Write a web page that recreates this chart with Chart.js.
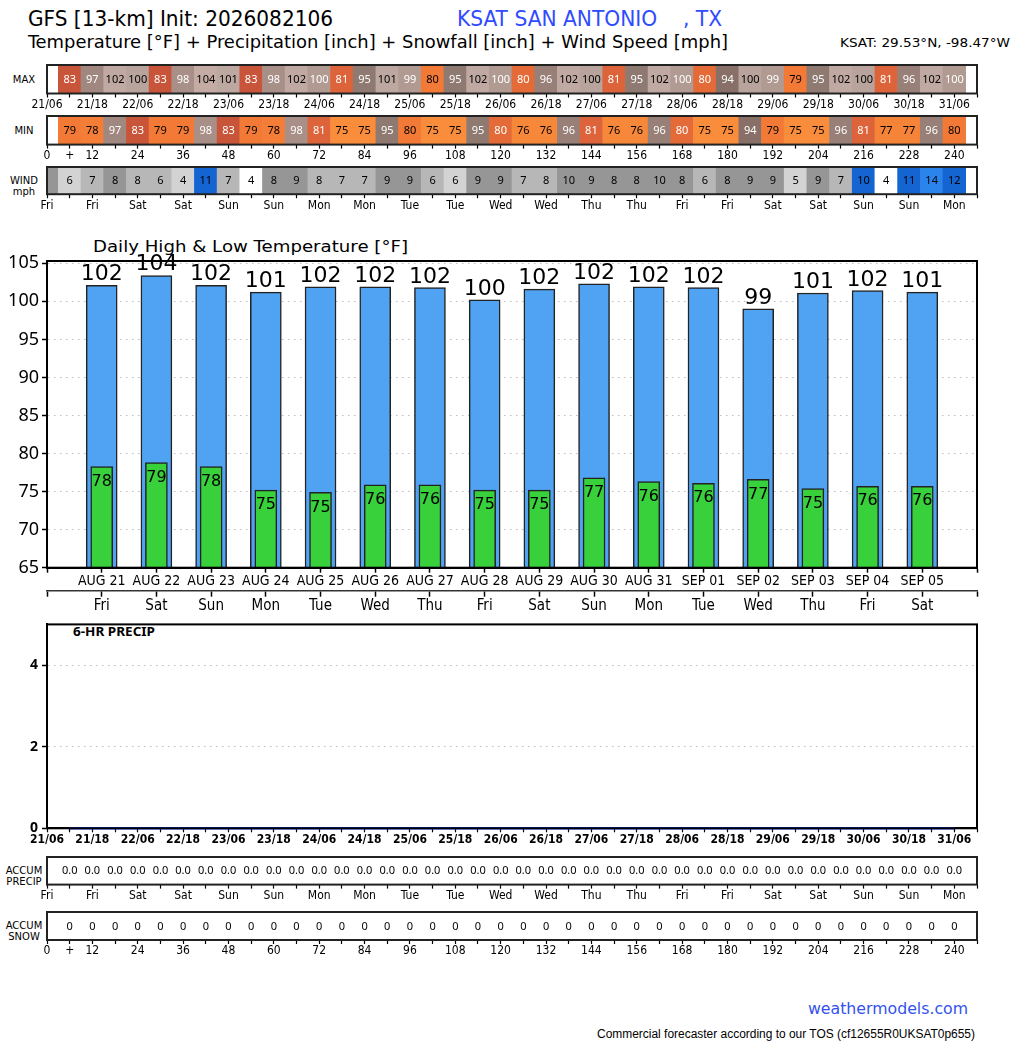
<!DOCTYPE html>
<html><head><meta charset="utf-8"><title>GFS KSAT San Antonio</title>
<script src="https://cdn.jsdelivr.net/npm/chart.js@4.4.1/dist/chart.umd.min.js"></script>
<style>
html,body{margin:0;padding:0;background:#fff}
body{position:relative;width:1024px;height:1044px;overflow:hidden}
.t{position:absolute;white-space:pre;line-height:1;color:#000;transform-origin:left top}
.sl{position:absolute;left:0;width:48px;text-align:center;font:10px "DejaVu Sans",sans-serif;line-height:11px;color:#000}
canvas{position:absolute;left:0}
</style></head><body>
<div id="h1" class="t" style="left:28px;top:9px;font-size:21px;font-family:'Liberation Sans Narrow','DejaVu Sans Condensed','Noto Sans',sans-serif">GFS [13-km] Init: 2026082106</div>
<div id="h2" class="t" style="left:457px;top:9px;font-size:21px;font-family:'Liberation Sans Narrow','DejaVu Sans Condensed','Noto Sans',sans-serif;color:#2f4bff">KSAT SAN ANTONIO    , TX</div>
<div id="h3" class="t" style="left:28px;top:33px;font-size:18px;font-family:'Liberation Sans Narrow','DejaVu Sans Condensed','Noto Sans',sans-serif">Temperature [°F] + Precipitation [inch] + Snowfall [inch] + Wind Speed [mph]</div>
<div id="h4" class="t" style="left:840px;top:37px;font-size:12px;font-family:'Liberation Sans Narrow','DejaVu Sans Condensed','Noto Sans',sans-serif">KSAT: 29.53°N, -98.47°W</div>

<div class="sl" style="top:74px">MAX</div>
<div class="sl" style="top:125px">MIN</div>
<div class="sl" style="top:175px">WIND<br>mph</div>
<div class="sl" style="top:865px">ACCUM<br>PRECIP</div>
<div class="sl" style="top:920px">ACCUM<br>SNOW</div>

<div id="tt" class="t" style="left:93px;top:239px;font-size:16px;font-family:'DejaVu Sans',sans-serif">Daily High &amp; Low Temperature [°F]</div>
<div id="pp" class="t" style="left:73px;top:626px;font-size:12px;font-weight:bold;font-family:'Noto Sans',sans-serif">6-HR PRECIP</div>

<div id="f1" class="t" style="left:808px;top:1001px;font-size:16px;font-family:'DejaVu Sans',sans-serif;color:#3352ee">weathermodels.com</div>
<div id="f2" class="t" style="left:597px;top:1028px;font-size:12px;font-family:'Liberation Sans',Arial,sans-serif">Commercial forecaster according to our TOS (cf12655R0UKSAT0p655)</div>

<script>
// ---------------- data ----------------
const dates = ['AUG 21','AUG 22','AUG 23','AUG 24','AUG 25','AUG 26','AUG 27','AUG 28','AUG 29','AUG 30','AUG 31','SEP 01','SEP 02','SEP 03','SEP 04','SEP 05'];
const weekdays = ['Fri','Sat','Sun','Mon','Tue','Wed','Thu','Fri','Sat','Sun','Mon','Tue','Wed','Thu','Fri','Sat'];
const highTemps = [102.1,103.4,102.1,101.2,101.9,101.9,101.8,100.2,101.6,102.3,101.9,101.8,99.0,101.1,101.4,101.2];
const lowTemps  = [78.3,78.8,78.3,75.2,74.9,75.9,75.9,75.2,75.2,76.8,76.3,76.1,76.6,75.4,75.7,75.7];
const highLabels = [102,104,102,101,102,102,102,100,102,102,102,102,99,101,102,101];
const lowLabels  = [78,79,78,75,75,76,76,75,75,77,76,76,77,75,76,76];

const stripHours = [6,12,18,24,30,36,42,48,54,60,66,72,78,84,90,96,102,108,114,120,126,132,138,144,150,156,162,168,174,180,186,192,198,204,210,216,222,228,234,240];
const windHours  = [0,6,12,18,24,30,36,42,48,54,60,66,72,78,84,90,96,102,108,114,120,126,132,138,144,150,156,162,168,174,180,186,192,198,204,210,216,222,228,234,240];

const maxTemps = [83,97,102,100.3,83,98,104,101,83,98,102,99.7,81,95,101,99,79.7,95,102,99.6,80.3,96,102,100.2,81,95,102,99.7,80.2,94,100.4,99,79,95,102,100.1,81,96,102,99.8];
const minTemps = [79,78,97,83,79,79,98,83,79,78,98,81,75,75,95,79.6,75,75,95,80.3,76,76,96,81,76,76,96,80.4,75,75,94,79,75,75,96,81,77,77,96,79.8];
const windMph  = [8.5,5.8,7.0,8.2,7.8,6.2,4.3,10.8,7.1,3.8,8.3,8.9,7.8,7.0,7.2,9.1,8.8,6.2,5.8,9.0,8.9,7.2,7.8,9.7,9.0,8.2,8.3,9.6,8.1,6.3,8.2,9.1,8.9,5.1,8.7,7.3,10.2,3.9,11.1,14.2,12.1];
const precip6hr   = [0,0,0,0,0,0,0,0,0,0,0,0,0,0,0,0,0,0,0,0,0,0,0,0,0,0,0,0,0,0,0,0,0,0,0,0,0,0,0,0];
const accumPrecip = [0,0,0,0,0,0,0,0,0,0,0,0,0,0,0,0,0,0,0,0,0,0,0,0,0,0,0,0,0,0,0,0,0,0,0,0,0,0,0,0];
const accumSnow   = [0,0,0,0,0,0,0,0,0,0,0,0,0,0,0,0,0,0,0,0,0,0,0,0,0,0,0,0,0,0,0,0,0,0,0,0,0,0,0,0];

const dateTicks = ['21/06','21/18','22/06','22/18','23/06','23/18','24/06','24/18','25/06','25/18','26/06','26/18','27/06','27/18','28/06','28/18','29/06','29/18','30/06','30/18','31/06'];
const dayTicks  = ['Fri','Fri','Sat','Sat','Sun','Sun','Mon','Mon','Tue','Tue','Wed','Wed','Thu','Thu','Fri','Fri','Sat','Sat','Sun','Sun','Mon'];

// ---------------- helpers ----------------
const NARROW = '"Liberation Sans Narrow","DejaVu Sans Condensed","Noto Sans",sans-serif';
Chart.defaults.animation = false;
Chart.defaults.responsive = false;
Chart.defaults.devicePixelRatio = 1;
Chart.defaults.plugins.legend.display = false;
Chart.defaults.plugins.tooltip.enabled = false;
Chart.defaults.color = '#000';

function fit(id, w){
  const el = document.getElementById(id);
  const r = w / el.getBoundingClientRect().width;
  el.style.transform = 'scaleX(' + r + ')';
}
fit('h1', 305); fit('h2', 265); fit('h3', 700); fit('h4', 170);
fit('tt', 315); fit('pp', 82); fit('f1', 160); fit('f2', 378);

function makeCanvas(top, h){
  const c = document.createElement('canvas');
  c.width = 1024; c.height = h; c.style.top = top + 'px';
  document.body.appendChild(c);
  return c;
}
function boxPlugin(color, w){
  return {id:'box', afterDraw(chart){
    const a = chart.chartArea, ctx = chart.ctx;
    ctx.save(); ctx.strokeStyle = color; ctx.lineWidth = w;
    ctx.strokeRect(a.left, a.top, a.right - a.left, a.bottom - a.top);
    ctx.restore();
  }};
}
function cellText(values, color, fmt){
  return {id:'cellText', afterDatasetsDraw(chart){
    const ctx = chart.ctx, a = chart.chartArea, meta = chart.getDatasetMeta(0);
    ctx.save(); ctx.font = '11px "Noto Sans",sans-serif';
    ctx.textAlign = 'center'; ctx.textBaseline = 'middle';
    meta.data.forEach((el, i) => {
      if (el.x - a.left < 5) return;
      ctx.fillStyle = color(values[i]);
      ctx.fillText(fmt(values[i]), el.x, (a.top + a.bottom) / 2 + 0.5);
    });
    ctx.restore();
  }};
}
// ticks every `step` between scale min and max (keeps only round values)
function stepTicks(step){
  return s => {
    const out = [];
    for (let v = Math.ceil(s.min / step) * step; v <= s.max + 1e-9; v += step) out.push({value: v});
    s.ticks = out;
  };
}
const tempStops = [[75,'#f98d3b'],[76,'#f7883a'],[77,'#f58338'],[78,'#f47e37'],[79,'#f27a36'],[80,'#e46b38'],[81,'#dd643a'],[82,'#d05b3a'],[83,'#c8553a'],[94,'#887068'],[95,'#8f7a72'],[96,'#988078'],[97,'#a08880'],[98,'#a89088'],[99,'#b09a92'],[100,'#b8a49c'],[101,'#bca8a0'],[102,'#c0a9a2'],[104,'#c4aca4']];
function tempColor(v){
  let c = tempStops[0][1];
  for (const [t, col] of tempStops) if (Math.floor(v) >= t) c = col;
  return c;
}
function tempText(v){ return (v >= 80 && v < 100) ? '#fff' : '#000'; }
function windColor(v){
  if (v < 4) return '#ffffff';
  if (v < 6) return '#d3d3d3';
  if (v < 8) return '#b7b7b7';
  if (v < 10) return '#969696';
  if (v < 14) return '#1464d2';
  return '#2a84ec';
}
const hourTick = v => (v === 6 ? '+' : (v % 12 === 0 && v <= 240 ? String(v) : ''));
const dateTick = v => (v % 12 === 0 && v <= 240 ? dateTicks[v / 12] : '');
const dayTick  = v => (v % 12 === 0 && v <= 240 ? dayTicks[v / 12] : '');

function strip(boxTop, boxBottom, hours, values, fill, txtColor, fmt, tickFn){
  const padT = 5, boxH = boxBottom - boxTop;
  const H = Math.round(boxH + padT + 22);
  const cv = makeCanvas(boxTop - padT, H);
  new Chart(cv, {
    type: 'bar',
    data: {datasets: [{
      data: hours.map(h => ({x: h, y: [0, 1]})),
      backgroundColor: values.map(fill),
      borderWidth: 0, barPercentage: 1, categoryPercentage: 1
    }]},
    options: {
      layout: {padding: {top: padT, left: 47, right: 47, bottom: H - padT - boxH - 16}},
      scales: {
        x: {type: 'linear', min: 0, max: 246, offset: false,
            ticks: {stepSize: 6, autoSkip: false, maxRotation: 0, padding: 0, color: '#000',
                    font: {size: 12, family: NARROW}, callback: tickFn},
            grid: {offset: false, drawOnChartArea: false, tickLength: 4, tickColor: '#000', tickWidth: 1.2},
            border: {display: false},
            afterFit: s => { s.height = 16; }},
        y: {display: false, min: 0, max: 1}
      }
    },
    plugins: [cellText(values, txtColor, fmt), boxPlugin('#222', 2)]
  });
}

// ---------------- top strips ----------------
strip(64.5, 93, stripHours, maxTemps, tempColor, tempText, v => String(Math.round(v)), dateTick);
strip(115.7, 144.3, stripHours, minTemps, tempColor, tempText, v => String(Math.round(v)), hourTick);
strip(167.3, 194.5, windHours, windMph, windColor, () => '#000', v => String(Math.round(v)), dayTick);

// ---------------- main chart ----------------
(function(){
  const top = 230, H = 390, padT = 31;
  const cv = makeCanvas(top, H);
  const labelPlugin = {id: 'tempLabels', afterDatasetsDraw(chart){
    const ctx = chart.ctx, hi = chart.getDatasetMeta(0), lo = chart.getDatasetMeta(1);
    ctx.save(); ctx.fillStyle = '#000'; ctx.textAlign = 'center';
    ctx.font = '22px "DejaVu Sans",sans-serif'; ctx.textBaseline = 'alphabetic';
    highLabels.forEach((t, i) => { const el = hi.data[i + 1]; ctx.fillText(String(t), el.x, el.y - 5); });
    ctx.font = '16px "DejaVu Sans",sans-serif'; ctx.textBaseline = 'middle';
    lowLabels.forEach((t, i) => { const el = lo.data[i + 1]; ctx.fillText(String(t), el.x, el.y + 15); });
    ctx.restore();
  }};
  new Chart(cv, {
    type: 'bar',
    data: {
      labels: ['', ...dates, ''],
      datasets: [
        {label: 'High', data: [null, ...highTemps, null], backgroundColor: '#50a3f2', borderColor: '#222',
         borderWidth: 1.5, barThickness: 31, grouped: false, order: 2},
        {label: 'Low', data: [null, ...lowTemps, null], backgroundColor: '#38d03b', borderColor: '#222',
         borderWidth: 1.5, barThickness: 22, grouped: false, order: 1}
      ]
    },
    options: {
      layout: {padding: {top: padT, left: 0, right: 47, bottom: H - padT - 306.7 - 47}},
      scales: {
        y: {min: 65, max: 105.3,
            afterBuildTicks: stepTicks(5),
            ticks: {stepSize: 5, padding: 3, color: '#000', font: {size: 18, family: '"Noto Sans",sans-serif'}},
            grid: {color: '#bdbdbd', lineWidth: 1, tickColor: '#000', tickLength: 5, tickWidth: 1.5, tickBorderDash: []},
            border: {display: true, color: '#000', width: 2, dash: [1.5, 4.5]},
            afterFit: s => { s.width = 47; }},
        x: {type: 'category', offset: false, weight: 0,
            ticks: {autoSkip: false, maxRotation: 0, padding: 0, color: '#000', font: {size: 14, family: NARROW}},
            grid: {offset: false, drawOnChartArea: false, tickLength: 5, tickColor: '#000', tickWidth: 1.5},
            border: {display: true, color: '#000', width: 2},
            afterFit: s => { s.height = 23; }},
        x2: {type: 'category', position: 'bottom', offset: false, weight: 1, labels: ['', ...weekdays, ''],
            ticks: {autoSkip: false, maxRotation: 0, padding: 0, color: '#000', font: {size: 15, family: NARROW}},
            grid: {offset: false, drawOnChartArea: false, tickLength: 6, tickColor: '#000', tickWidth: 1.5},
            border: {display: true, color: '#333', width: 1.5},
            afterFit: s => { s.height = 24; }}
      }
    },
    plugins: [labelPlugin, boxPlugin('#000', 2)]
  });
})();

// ---------------- precip chart ----------------
(function(){
  const top = 612, H = 244, padT = 11.3, areaH = 205;
  const cv = makeCanvas(top, H);
  new Chart(cv, {
    type: 'line',
    data: {datasets: [
      {label: '6-hr precip', data: stripHours.map((h, i) => ({x: h, y: precip6hr[i]})),
       borderColor: '#1f3cff', borderWidth: 2.5, pointRadius: 0, clip: false},
      {label: 'accum precip', data: stripHours.map((h, i) => ({x: h, y: accumPrecip[i]})),
       borderColor: '#000', borderWidth: 1.5, borderDash: [6, 6], pointRadius: 0, clip: false}
    ]},
    options: {
      layout: {padding: {top: padT, left: 0, right: 47, bottom: H - padT - areaH - 16}},
      scales: {
        x: {type: 'linear', min: 0, max: 246, offset: false,
            ticks: {stepSize: 6, autoSkip: false, maxRotation: 0, padding: 0, color: '#000',
                    font: {size: 12, weight: 'bold', family: NARROW}, callback: dateTick},
            grid: {offset: false, drawOnChartArea: false, tickLength: 4, tickColor: '#000', tickWidth: 1.2},
            border: {display: true, color: '#000', width: 2},
            afterFit: s => { s.height = 16; }},
        y: {min: 0, max: 5,
            afterBuildTicks: stepTicks(2),
            ticks: {stepSize: 2, padding: 4, color: '#000', font: {size: 14, weight: 'bold', family: '"Noto Sans",sans-serif'}},
            grid: {color: c => (c.tick && c.tick.value === 0 ? 'rgba(0,0,0,0)' : '#bdbdbd'), tickColor: '#000', tickLength: 5, tickWidth: 1.5, tickBorderDash: []},
            border: {display: true, color: '#000', width: 2, dash: [1.5, 4.5]},
            afterFit: s => { s.width = 47; }}
      }
    },
    plugins: [boxPlugin('#000', 2)]
  });
})();

// ---------------- bottom strips ----------------
strip(856.7, 884.3, stripHours, accumPrecip, () => '#ffffff', () => '#000', v => v.toFixed(1), dayTick);
strip(912.3, 940.3, stripHours, accumSnow, () => '#ffffff', () => '#000', v => String(Math.round(v)), hourTick);
</script>
</body></html>
